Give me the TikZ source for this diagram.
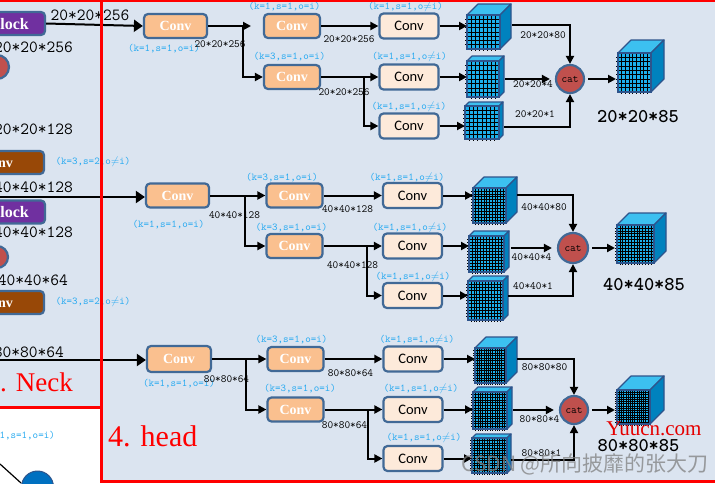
\documentclass[tikz,border=0pt]{standalone}
\usepackage{fontspec}
\setmainfont{Liberation Serif}
\newfontfamily\lconvfont{Carlito}
\newfontfamily\cjkfont{Noto Sans CJK SC}
\usetikzlibrary{arrows.meta,calc}
\definecolor{bgc}{RGB}{219,228,240}
\definecolor{bordc}{RGB}{65,105,150}
\definecolor{orangef}{RGB}{250,192,143}
\definecolor{lightf}{RGB}{253,234,218}
\definecolor{purplef}{RGB}{112,48,160}
\definecolor{brownf}{RGB}{152,72,7}
\definecolor{cyanc}{RGB}{40,170,240}
\definecolor{catc}{RGB}{192,80,77}
\definecolor{cubefront}{RGB}{28,176,236}
\definecolor{cubetop}{RGB}{60,192,240}
\definecolor{cubeside}{RGB}{0,130,190}
\definecolor{cubeedge}{RGB}{46,84,140}
\definecolor{blueball}{RGB}{0,112,192}
\newcommand\mycube[7]{%
 \begin{scope}[shift={(#2,#3)}]
 \node[inner sep=0,outer sep=0,minimum width=#4,minimum height=#5,anchor=north west] (#1) at (0,0) {};
 \filldraw[fill=cubetop,draw=cubeedge,line width=1.2pt,line join=round] (0,0) -- (#6,-#6) -- ({#4+#6},-#6) -- (#4,0) -- cycle;
 \filldraw[fill=cubeside,draw=cubeedge,line width=1.2pt,line join=round] (#4,0) -- ({#4+#6},-#6) -- ({#4+#6},{#5-#6}) -- (#4,#5) -- cycle;
 \fill[cubefront] (0,0) rectangle (#4,#5);
 \pgfmathtruncatemacro\cubem{#7-1}
 \pgfmathsetmacro\cubelw{min(1,7.2/#7)}
 \foreach \i in {1,...,\cubem}{
   \draw[black,line width=\cubelw pt] ({\i*#4/#7},0) -- ({\i*#4/#7},{#5+2});
   \draw[black,line width=\cubelw pt] (-2,{\i*#5/#7}) -- (#4,{\i*#5/#7});
 }
 \draw[cubeedge,line width=1.2pt] (0,0) rectangle (#4,#5);
 \end{scope}}
\begin{document}
\begin{tikzpicture}[x=1pt,y=-1pt,
 oconv/.style={draw=bordc,line width=2.2pt,fill=orangef,rounded corners=4pt,minimum width=56,minimum height=24,inner sep=0,font=\bfseries\fontsize{14}{14}\selectfont,text=white},
 lconv/.style={draw=bordc,line width=2.2pt,fill=lightf,rounded corners=4pt,minimum width=59,minimum height=25,inner sep=0,font=\lconvfont\fontsize{14.5}{15}\selectfont,text=black},
 pbox/.style={draw=bordc,line width=2.2pt,fill=purplef,rounded corners=4pt,minimum width=104,minimum height=23,inner sep=0},
 bbox/.style={draw=bordc,line width=2.2pt,fill=brownf,rounded corners=4pt,minimum width=94,minimum height=23,inner sep=0,font=\bfseries\fontsize{14}{14}\selectfont,text=white},
 boxtxt/.style={font=\bfseries\fontsize{16}{16}\selectfont,text=white,inner sep=0},
 klab/.style={text=cyanc,font=\ttfamily\fontsize{10.5}{11}\selectfont,inner sep=0},
 dimlab/.style={font=\ttfamily\fontsize{11}{11}\selectfont,inner sep=0},
 biglab/.style={font=\ttfamily\fontsize{17}{17}\selectfont,inner sep=0},
 outlab/.style={font=\ttfamily\bfseries\fontsize{19.5}{20}\selectfont,inner sep=0},
 catn/.style={circle,fill=catc,draw=bordc,line width=2.2pt,minimum size=28,inner sep=0,font=\ttfamily\fontsize{11}{11}\selectfont},
 ln/.style={line width=2pt},
 arr/.style={line width=2pt,-{Triangle[length=8pt,width=8pt]}},
 bigarr/.style={line width=2pt,-{Triangle[length=9pt,width=12pt]}},
 frame/.style={red,line width=3pt}
]
\useasboundingbox (0,0) rectangle (715,483);
\begin{scope}
\clip (0,0) rectangle (715,483);
\fill[bgc] (0,0) rectangle (715,483);
\fill[white] (0,407) rectangle (101.5,483);

% ---------------- neck (partly visible) ----------------
\node[pbox] (PB1) at (-7,23.5) {};
\node[boxtxt,anchor=east] (PB1t) at (29,24) {Block};
\node[catn,minimum size=24] (NC1) at (-3,67) {};
\node[bbox] (NB1) at (-3,162.5) {Conv};
\node[pbox] (PB2) at (-7,212) {};
\node[boxtxt,anchor=east] (PB2t) at (29,212.5) {Block};
\node[catn,minimum size=22] (NC2) at (-3,257) {};
\node[bbox] (NB2) at (-3,302.5) {Conv};
\node[biglab,anchor=east] (n1) at (73,47) {20*20*256};
\node[biglab,anchor=east] (n2) at (73,129) {20*20*128};
\node[biglab,anchor=east] (n3) at (73,187) {40*40*128};
\node[biglab,anchor=east] (n4) at (73,232) {40*40*128};
\node[biglab,anchor=east] (n5) at (68,280) {40*40*64};
\node[biglab,anchor=east] (n6) at (64,352) {80*80*64};
\node[biglab] (n7) at (90,15) {20*20*256};
\node[klab] (n8) at (93,162) {(k=3,s=2,o$\neq$i)};
\node[klab] (n9) at (93,302) {(k=3,s=2,o$\neq$i)};
\node[klab,anchor=east] (n10) at (55,436) {(k=1,s=1,o=i)};
\node[text=red,font=\fontsize{27}{27}\selectfont,anchor=base east,inner sep=0] (neck) at (73,391) {3. Neck};
\node[circle,fill=blueball,draw=cubeedge,line width=1pt,minimum size=32,inner sep=0] (ball) at (37.5,487) {};
\coordinate (dg0) at (0,464);
\draw[line width=1.2pt] (dg0) -- (ball.west |- 0,483);
\coordinate (m0) at (0,197);
\coordinate (b0) at (0,360);

% ---------------- head: top row (20x20) ----------------
\node[oconv,minimum width=63] (A1) at (175.5,26) {Conv};
\node[oconv] (A2) at (292,26) {Conv};
\node[oconv] (A3) at (292,77) {Conv};
\node[lconv] (L1) at (409,26) {Conv};
\node[lconv] (L2) at (409,77) {Conv};
\node[lconv] (L3) at (409,126) {Conv};
\mycube{T1}{467}{15}{33}{34}{11}{8}
\mycube{T2}{467}{61}{32}{36}{5}{8}
\mycube{T3}{465}{106}{34}{33}{4}{8}
\node[catn] (catT) at (570,79) {cat};
\mycube{OT}{618}{53}{33}{39}{13}{9}

\draw[bigarr] (PB1.east) -- (A1.west);
\coordinate (tb) at (243,26);
\coordinate (te) at (251,26);
\draw[ln] (A1.east) -- (tb);
\draw[arr] (tb) -- (te);
\draw[arr] (tb) |- (A3.west);
\draw[arr] (A2) -- (L1);
\coordinate (tc) at (364,77);
\draw[arr] (A3) -- (L2);
\draw[arr] (tc) |- (L3.west);
\draw[arr] (L1.east) -- (L1.east -| T1.west);
\draw[arr] (L2.east) -- (L2.east -| T2.west);
\draw[arr] (L3.east) -- (L3.east -| T3.west);
\draw[arr] ($(T1.east)+(12,-7)$) -| (catT.north);
\draw[arr,shorten >=5pt] ($(T2.east)+(6,0)$) -- (catT.west);
\draw[arr] ($(T3.east)+(5,4.5)$) -| (catT.south);
\draw[arr,shorten <=3pt,shorten >=2pt] (catT.east) -- (catT.east -| OT.west);

\node[klab] (k1) at (164,49) {(k=1,s=1,o=i)};
\node[dimlab] (d1) at (220,44) {20*20*256};
\node[klab] (k2) at (284.5,7) {(k=1,s=1,o=i)};
\node[klab] (k3) at (289.5,57) {(k=3,s=1,o=i)};
\node[dimlab] (d2) at (349,39) {20*20*256};
\node[dimlab] (d3) at (344,92) {20*20*256};
\node[klab] (k4) at (405.5,7) {(k=1,s=1,o$\neq$i)};
\node[klab] (k5) at (409.5,57) {(k=1,s=1,o$\neq$i)};
\node[klab] (k6) at (409,107) {(k=1,s=1,o$\neq$i)};
\node[dimlab] (d4) at (543,35) {20*20*80};
\node[dimlab] (d5) at (533,84) {20*20*4};
\node[dimlab] (d6) at (535,114) {20*20*1};
\node[outlab] (o1) at (638,117) {20*20*85};

% ---------------- head: middle row (40x40) ----------------
\node[oconv,minimum width=63] (B1) at (177.5,195.5) {Conv};
\node[oconv] (B2) at (294.5,195.5) {Conv};
\node[oconv] (B3) at (294.5,246) {Conv};
\node[lconv] (ML1) at (412.5,195.5) {Conv};
\node[lconv] (ML2) at (412.5,246) {Conv};
\node[lconv] (ML3) at (412.5,295.5) {Conv};
\mycube{M1}{473}{188}{33}{35}{11}{12}
\mycube{M2}{469}{236}{35}{36}{5}{12}
\mycube{M3}{468}{281}{35}{39}{5}{12}
\node[catn,minimum size=30] (catM) at (573,248) {cat};
\mycube{OM}{617}{225}{37}{38}{12}{13}

\draw[bigarr] (m0) -- (m0 -| B1.west);
\coordinate (mb) at (245,195.5);
\draw[ln] (B1.east) -- (mb);
\draw[arr] (mb) -- (B2.west);
\draw[arr] (mb) |- (B3.west);
\draw[arr] (B2) -- (ML1);
\coordinate (mc) at (367,246);
\draw[arr] (B3) -- (ML2);
\draw[arr] (mc) |- (ML3.west);
\draw[arr] (ML1.east) -- (ML1.east -| M1.west);
\draw[arr] (ML2.east) -- (ML2.east -| M2.west);
\draw[arr] (ML3.east) -- (ML3.east -| M3.west);
\draw[arr] ($(M1.east)+(11,-10.5)$) -| (catM.north);
\draw[arr,shorten >=5pt] ($(M2.east)+(7,-6)$) -- (catM.west);
\draw[arr] ($(M3.east)+(5,-4.5)$) -| (catM.south);
\draw[arr,shorten <=3pt,shorten >=2pt] (catM.east) -- (catM.east -| OM.west);

\node[klab] (k7) at (168.5,225) {(k=1,s=1,o=i)};
\node[dimlab] (d7) at (234.5,215) {40*40*128};
\node[klab] (k8) at (282,178) {(k=3,s=1,o=i)};
\node[klab] (k9) at (291.5,228) {(k=3,s=1,o=i)};
\node[dimlab] (d8) at (347.5,209) {40*40*128};
\node[dimlab] (d9) at (352.5,265) {40*40*128};
\node[klab] (k10) at (407,178) {(k=1,s=1,o$\neq$i)};
\node[klab] (k11) at (410,228) {(k=1,s=1,o$\neq$i)};
\node[klab] (k12) at (413,277) {(k=1,s=1,o$\neq$i)};
\node[dimlab] (d10) at (544,207) {40*40*80};
\node[dimlab] (d11) at (531.5,257) {40*40*4};
\node[dimlab] (d12) at (533,286) {40*40*1};
\node[outlab] (o2) at (644,285) {40*40*85};

% ---------------- head: bottom row (80x80) ----------------
\node[oconv,minimum width=64,minimum height=26] (D1) at (179,359) {Conv};
\node[oconv] (D2) at (295.5,359) {Conv};
\node[oconv] (D3) at (295.5,409.5) {Conv};
\node[lconv] (BL1) at (413,359) {Conv};
\node[lconv] (BL2) at (413,409.5) {Conv};
\node[lconv] (BL3) at (413,458.5) {Conv};
\mycube{U1}{475}{348}{31}{35}{11}{14}
\mycube{U2}{473}{392}{34}{37}{5}{14}
\mycube{U3}{472}{438}{35}{35}{4}{14}
\node[catn] (catB) at (574,410) {cat};
\mycube{OB}{617}{390}{33}{34}{14}{15}

\draw[bigarr] (b0) -- (b0 -| D1.west);
\coordinate (bb) at (246,359);
\draw[ln] (D1.east) -- (bb);
\draw[arr] (bb) -- (D2.west);
\draw[arr] (bb) |- (D3.west);
\draw[arr] (D2) -- (BL1);
\coordinate (bc) at (368,409.5);
\draw[arr] (D3) -- (BL2);
\draw[arr] (bc) |- (BL3.west);
\draw[arr] (BL1.east) -- (BL1.east -| U1.west);
\draw[arr] (BL2.east) -- (BL2.east -| U2.west);
\draw[arr] (BL3.east) -- (BL3.east -| U3.west);
\draw[arr] ($(U1.east)+(11,-6.5)$) -| (catB.north);
\draw[arr,shorten >=5pt] ($(U2.east)+(6,-0.5)$) -- (catB.west);
\draw[arr] ($(U3.east)+(4,4.5)$) -| (catB.south);
\draw[arr,shorten <=3pt,shorten >=2pt] (catB.east) -- (catB.east -| OB.west);

\node[klab] (k13) at (179,384) {(k=1,s=1,o=i)};
\node[dimlab] (d13) at (226.5,379) {80*80*64};
\node[klab] (k14) at (291.5,340) {(k=3,s=1,o=i)};
\node[klab] (k15) at (300,389) {(k=3,s=1,o=i)};
\node[dimlab] (d14) at (350.5,373) {80*80*64};
\node[dimlab] (d15) at (344.5,425) {80*80*64};
\node[klab] (k16) at (417,340) {(k=1,s=1,o$\neq$i)};
\node[klab] (k17) at (421,389) {(k=1,s=1,o$\neq$i)};
\node[klab] (k18) at (424,438) {(k=1,s=1,o$\neq$i)};
\node[dimlab] (d16) at (544.5,367) {80*80*80};
\node[dimlab] (d17) at (539.5,419) {80*80*4};
\node[dimlab] (d18) at (541.5,453) {80*80*1};
\node[outlab] (o3) at (638.5,446) {80*80*85};

\node[text=red,font=\fontsize{30}{30}\selectfont,anchor=base west,inner sep=0] (head) at (108,446) {4. head};

% ---------------- frames ----------------
\draw[frame] (101.5,0) -- (101.5,483);
\draw[frame] (0,0.8) -- (715,0.8);
\draw[frame] (101.5,481.5) -- (715,481.5);
\draw[frame] (0,407) -- (101.5,407);

% ---------------- watermarks ----------------
\node[text=red!90!black,font=\fontsize{21}{21}\selectfont,inner sep=0] (wm1) at (654,429) {Yuucn.com};
\node[text=gray,opacity=0.75,font=\cjkfont\fontsize{21}{21}\selectfont,inner sep=0] (wm2) at (585,464) {CSDN @所向披靡的张大刀};
\end{scope}
\end{tikzpicture}
\end{document}
